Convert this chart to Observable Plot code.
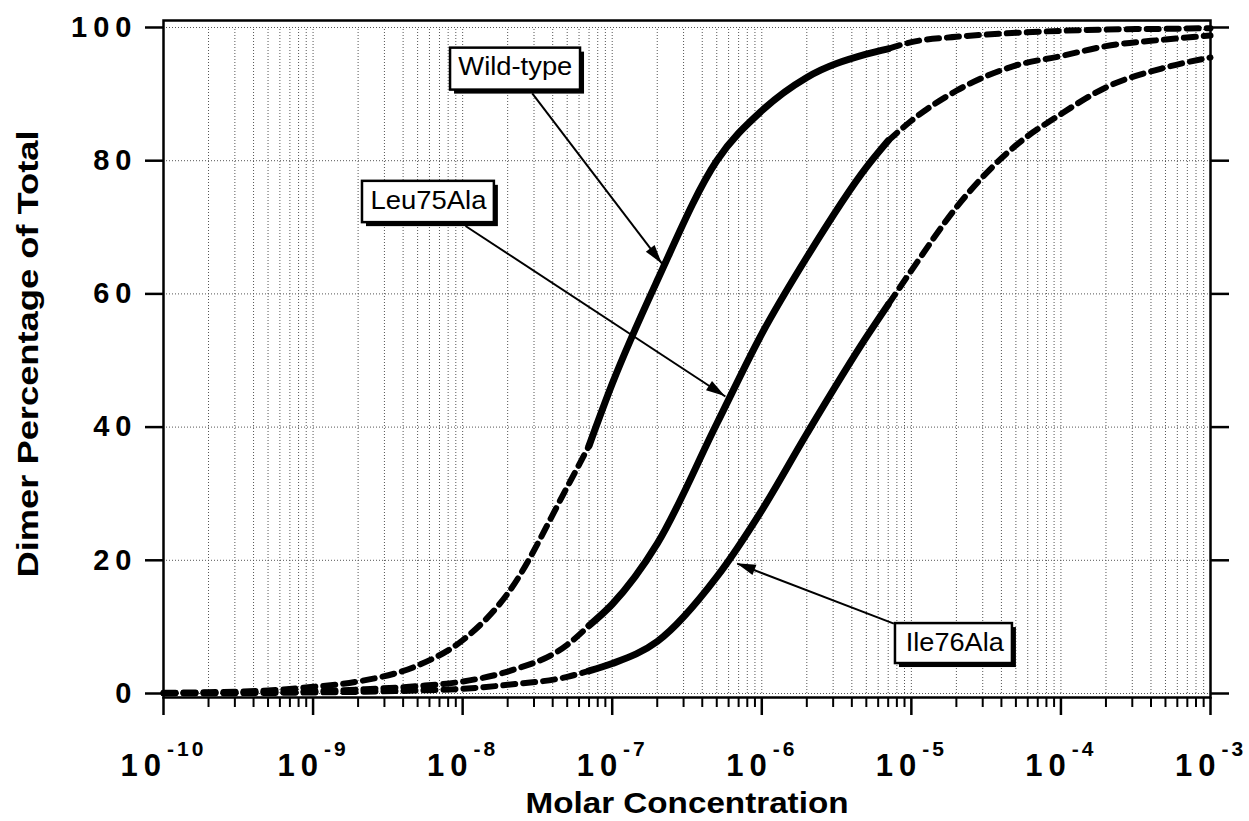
<!DOCTYPE html>
<html>
<head>
<meta charset="utf-8">
<script src="https://cdn.jsdelivr.net/npm/d3@7"></script>
<script src="https://cdn.jsdelivr.net/npm/@observablehq/plot@0.6"></script>
<style>
  body { margin: 0; background: #fff; }
  svg { display: block; }
</style>
</head>
<body>
<div id="chart"></div>
<script>
// ---- data ----
const concentrations = [1e-10, 2e-10, 5e-10, 1e-9, 2e-9, 5e-9, 1e-8, 2e-8, 5e-8, 7e-8, 1e-7, 2e-7, 5e-7, 1e-6, 2e-6, 5e-6, 7e-6, 1e-5, 2e-5, 5e-5, 1e-4, 2e-4, 5e-4, 1e-3];
const wildType = [0.1, 0.2, 0.45, 1.0, 1.8, 4.2, 8.0, 15.0, 31.0, 37.2, 46.5, 62.0, 80.0, 87.5, 92.5, 96.0, 96.8, 97.8, 98.6, 99.2, 99.5, 99.7, 99.8, 99.9];
const leu75Ala = [0.05, 0.1, 0.2, 0.35, 0.6, 1.1, 1.8, 3.3, 7.3, 10.2, 13.4, 22.5, 40.5, 54.0, 65.5, 79.0, 83.0, 86.0, 90.5, 94.3, 95.7, 97.2, 98.2, 98.8];
const ile76Ala = [0.02, 0.04, 0.08, 0.15, 0.25, 0.45, 0.7, 1.3, 2.5, 3.4, 4.5, 7.8, 17.5, 27.5, 39.0, 53.5, 58.4, 63.5, 73.0, 82.3, 87.0, 91.0, 94.0, 95.5];
const seriesNames = ["Wild-type", "Leu75Ala", "Ile76Ala"];
const solidStart = 7e-8;
const solidEnd = 7e-6;

// ticks
const yTicks = [0, 20, 40, 60, 80, 100];
const xMajor = [1e-10, 1e-9, 1e-8, 1e-7, 1e-6, 1e-5, 1e-4, 1e-3];
const xMajorLabels = ["10^-10", "10^-9", "10^-8", "10^-7", "10^-6", "10^-5", "10^-4", "10^-3"];
const minorMultipliers = [2, 3, 4, 5, 6, 7, 8, 9];

// annotations (data units)
const labelX = [2.25e-8, 5.91e-9, 1.95e-5];
const labelY = [92.9, 72.8, 6.4];
const boxX1 = [8.3e-9, 2.14e-9, 7.83e-6];
const boxX2 = [6.14e-8, 1.63e-8, 4.74e-5];
const boxY1 = [90.6, 70.7, 4.5];
const boxY2 = [96.9, 76.9, 10.5];
const arrowFromX = [2.92e-8, 1.045e-8, 7.64e-6];
const arrowFromY = [90.1, 70.2, 10.5];
const arrowToX = [2.16e-7, 5.71e-7, 6.85e-7];
const arrowToY = [64.5, 44.6, 19.5];

// ---- build tables ----
const seriesValues = [wildType, leu75Ala, ile76Ala];
const dashedRows = [];
const solidRows = [];
seriesNames.forEach((name, s) => {
  concentrations.forEach((c, i) => {
    const v = seriesValues[s][i];
    if (c <= solidStart) dashedRows.push({c, v, seg: name + "-low"});
    if (c >= solidEnd) dashedRows.push({c, v, seg: name + "-high"});
    if (c >= solidStart && c <= solidEnd) solidRows.push({c, v, seg: name});
  });
});
const xMinor = xMajor.slice(0, -1).flatMap(m => minorMultipliers.map(k => k * m));
const gridX = xMinor.concat(xMajor.slice(1, -1));
const boxes = seriesNames.map((t, i) => ({t, x1: boxX1[i], x2: boxX2[i], y1: boxY1[i], y2: boxY2[i], lx: labelX[i], ly: labelY[i]}));
const arrows = seriesNames.map((t, i) => ({x1: arrowFromX[i], y1: arrowFromY[i], x2: arrowToX[i], y2: arrowToY[i]}));
const tickLabelRows = xMajor.map((v, i) => ({v, t: xMajorLabels[i]}));

const FONT = "'Liberation Sans', Arial, Helvetica, sans-serif";

const plot = Plot.plot({
  width: 1249,
  height: 821,
  marginLeft: 163,
  marginRight: 39,
  marginTop: 20,
  marginBottom: 124,
  style: {fontFamily: FONT, background: "white", color: "black"},
  x: {type: "log", domain: [1e-10, 1e-3]},
  y: {domain: [-0.6, 101.05]},
  marks: [
    Plot.ruleX(gridX, {y1: 0, y2: 100, stroke: "#555", strokeWidth: 1, strokeDasharray: "1,2"}),
    Plot.ruleY(yTicks, {stroke: "#555", strokeWidth: 1, strokeDasharray: "1,2"}),
    Plot.line(dashedRows, {x: "c", y: "v", z: "seg", curve: "monotone-x", stroke: "black", strokeWidth: 6, strokeDasharray: "12,8"}),
    Plot.line(solidRows, {x: "c", y: "v", z: "seg", curve: "monotone-x", stroke: "black", strokeWidth: 7}),
    Plot.link(arrows, {x1: "x1", y1: "y1", x2: "x2", y2: "y2", stroke: "black", strokeWidth: 2}),
    Plot.rect(boxes, {x1: "x1", x2: "x2", y1: "y1", y2: "y2", fill: "black", dx: 4, dy: 4}),
    Plot.rect(boxes, {x1: "x1", x2: "x2", y1: "y1", y2: "y2", fill: "white", stroke: "black", strokeWidth: 2.5}),
    Plot.text(boxes, {x: "lx", y: "ly", text: "t", fontSize: 25, lineAnchor: "bottom", fill: "black"}),
    Plot.frame({stroke: "black", strokeWidth: 2.5}),
    Plot.axisY({ticks: yTicks, tickSize: 18, strokeWidth: 2.5, label: null, tickFormat: () => ""}),
    Plot.axisY({anchor: "right", ticks: yTicks, tickSize: 18, strokeWidth: 2.5, label: null, tickFormat: () => ""}),
    Plot.axisX({ticks: xMajor, tickSize: 18, strokeWidth: 2.5, label: null, tickFormat: () => ""}),
    Plot.axisX({ticks: xMinor, tickSize: 10, strokeWidth: 2, label: null, tickFormat: () => ""}),
    Plot.text(yTicks, {y: d => d, text: d => "#" + d, frameAnchor: "left", textAnchor: "end", dx: -26, lineAnchor: "middle", fontSize: 29, fontWeight: "bold", fill: "black"}),
    Plot.text(tickLabelRows, {x: "v", text: "t", frameAnchor: "bottom", dy: 78, lineAnchor: "bottom", fontWeight: "bold", fontSize: 30, fill: "black"}),
    Plot.text(["Molar Concentration"], {frameAnchor: "bottom", dy: 115, lineAnchor: "bottom", fontSize: 30, fontWeight: "bold", fill: "black"}),
    Plot.text(["Dimer Percentage of Total"], {frameAnchor: "left", textAnchor: "middle", dx: -126, dy: -5, rotate: -90, lineAnchor: "bottom", fontSize: 30, fontWeight: "bold", fill: "black"})
  ]
});

document.getElementById("chart").appendChild(plot);
const svg = d3.select(plot);

// superscript tick labels and y tick labels
svg.selectAll("text").each(function () {
  const t = this.textContent;
  const sel = d3.select(this);
  if (t.includes("^")) {
    const [base, exp] = t.split("^");
    sel.text(null);
    sel.append("tspan").text(base).attr("font-size", 31).attr("letter-spacing", 6);
    sel.append("tspan").text(exp).attr("font-size", 21).attr("dy", -20).attr("letter-spacing", 3);
  } else if (t.startsWith("#")) {
    sel.text(t.slice(1)).attr("letter-spacing", 6);
  }
});

// stretched texts to match the scanned proportions
const lengths = {"Molar Concentration": 323, "Dimer Percentage of Total": 447, "Wild-type": 114, "Leu75Ala": 116, "Ile76Ala": 98};
svg.selectAll("text").each(function () {
  const t = this.textContent;
  if (lengths[t]) d3.select(this).attr("textLength", lengths[t]).attr("lengthAdjust", "spacingAndGlyphs");
});

// filled arrowheads using the plot's scales
const sx = plot.scale("x"), sy = plot.scale("y");
arrows.forEach(a => {
  const x1 = sx.apply(a.x1), y1 = sy.apply(a.y1), x2 = sx.apply(a.x2), y2 = sy.apply(a.y2);
  const ang = Math.atan2(y2 - y1, x2 - x1);
  const L = 19, W = 5.5;
  const bx = x2 - L * Math.cos(ang), by = y2 - L * Math.sin(ang);
  const px = -Math.sin(ang) * W, py = Math.cos(ang) * W;
  svg.append("polygon")
    .attr("points", `${x2},${y2} ${bx + px},${by + py} ${bx - px},${by - py}`)
    .attr("fill", "black");
});
</script>
</body>
</html>
